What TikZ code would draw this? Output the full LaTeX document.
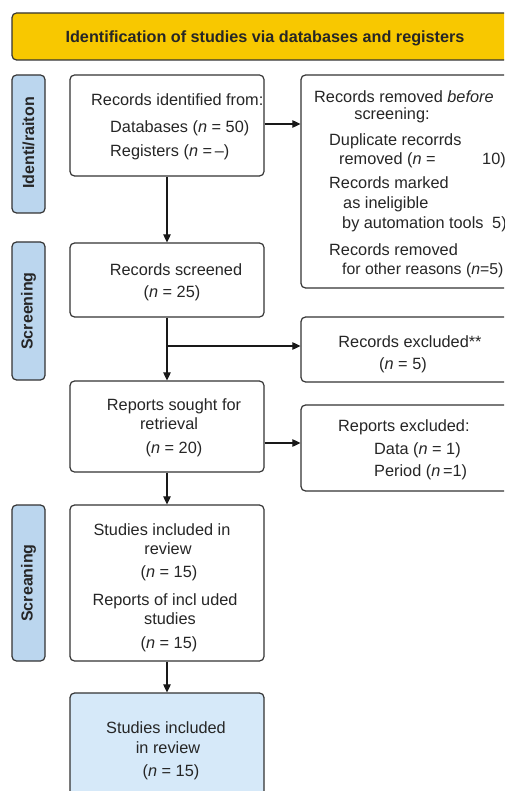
\documentclass[tikz,border=0pt]{standalone}
\usepackage{fontspec}
\setmainfont{Liberation Sans}
\usetikzlibrary{arrows.meta}
\definecolor{gold}{HTML}{F8C800}
\definecolor{sideblue}{HTML}{BBD6EE}
\definecolor{finalblue}{HTML}{D6E9F9}
\definecolor{linec}{HTML}{333333}
\tikzset{
  boxx/.style={draw=linec, line width=1.2pt, rounded corners=4.5pt, fill=white, inner sep=0pt},
  sidebox/.style={boxx, fill=sideblue},
  txt/.style={inner sep=0pt, font=\fontsize{16.3}{20}\selectfont, text=black!85},
  sidetxt/.style={inner sep=0pt, font=\fontsize{16}{20}\selectfont\bfseries, rotate=90, text=black!85},
  arr/.style={draw=black!90, line width=1.1pt, -{Triangle[length=8pt,width=7.5pt]}}
}
\begin{document}
\begin{tikzpicture}[x=1pt,y=-1pt]
\clip (0,0) rectangle (504,791);
\fill[white] (0,0) rectangle (504,791);
% banner
\node[boxx, fill=gold, minimum width=518pt, minimum height=47pt] (ban) at (271,36.5) {};
\node[txt, font=\fontsize{16.2}{20}\selectfont\bfseries, anchor=base] (bantxt) at (265,43) {Identification of studies via databases and registers};
% side labels
\node[sidebox, minimum width=33pt, minimum height=138pt] (s1) at (28.5,144) {};
\node[sidetxt] (s1t) at (28.5,143) {Identi/raiton};
\node[sidebox, minimum width=33pt, minimum height=138pt] (s2) at (28.5,311) {};
\node[sidetxt] (s2t) at (28.5,311) {Screening};
\node[sidebox, minimum width=33pt, minimum height=156pt] (s3) at (28.5,583) {};
\node[sidetxt] (s3t) at (28.5,583) {Screaning};
% boxes
\node[boxx, minimum width=194pt, minimum height=101pt] (b1) at (167,125.5) {};
\node[boxx, minimum width=229pt, minimum height=213pt] (b2) at (415.5,181.5) {};
\node[boxx, minimum width=194pt, minimum height=74pt] (scr) at (167,280) {};
\node[boxx, minimum width=229pt, minimum height=65pt] (excl) at (415.5,349.5) {};
\node[boxx, minimum width=194pt, minimum height=91pt] (sought) at (167,426.5) {};
\node[boxx, minimum width=229pt, minimum height=86pt] (repx) at (415.5,448) {};
\node[boxx, minimum width=194pt, minimum height=156pt] (stud) at (167,583) {};
\node[boxx, fill=finalblue, minimum width=194pt, minimum height=137pt] (fin) at (167,761.5) {};
% box 1 text
\node[txt, anchor=base west] (t1a) at (91,106) {Records identified from:};
\node[txt, anchor=base west] (t1b) at (110,133) {Databases (\textit{n} = 50)};
\node[txt, anchor=base west] (t1c) at (110,157) {Registers (\textit{n} =\,–)};
% box 2 text
\node[txt, anchor=base west] (t2a) at (314,103) {Records removed \textit{before}};
\node[txt, anchor=base] (t2b) at (392,120) {screening:};
\node[txt, anchor=base west] (t2c) at (329,146) {Duplicate recorrds};
\node[txt, anchor=base west] (t2d) at (339,165) {removed (\textit{n} =};
\node[txt, anchor=base west] (t2e) at (482,165) {10)};
\node[txt, anchor=base west] (t2f) at (329,189) {Records marked};
\node[txt, anchor=base west] (t2g) at (343,209) {as ineligible};
\node[txt, anchor=base west] (t2h) at (342,229) {by automation tools};
\node[txt, anchor=base west] (t2i) at (492,229) {5)};
\node[txt, anchor=base west] (t2j) at (329,255) {Records removed};
\node[txt, anchor=base west, font=\fontsize{15.8}{20}\selectfont] (t2k) at (342,274) {for other reasons (\textit{n}=5)};
% screened
\node[txt, anchor=base] (t3a) at (176,275) {Records screened};
\node[txt, anchor=base] (t3b) at (172,297) {(\textit{n} = 25)};
% excluded
\node[txt, anchor=base] (t4a) at (410,347) {Records excluded**};
\node[txt, anchor=base] (t4b) at (403,369) {(\textit{n} = 5)};
% sought
\node[txt, anchor=base] (t5a) at (174,410) {Reports sought for};
\node[txt, anchor=base] (t5b) at (169,429) {retrieval};
\node[txt, anchor=base] (t5c) at (174,453) {(\textit{n} = 20)};
% reports excluded
\node[txt, anchor=base west] (t6a) at (338,431) {Reports excluded:};
\node[txt, anchor=base west] (t6b) at (374,454) {Data (\textit{n} = 1)};
\node[txt, anchor=base west] (t6c) at (374,476) {Period (\textit{n}\,=1)};
% studies
\node[txt, anchor=base] (t7a) at (162,535) {Studies included in};
\node[txt, anchor=base] (t7b) at (168,554) {review};
\node[txt, anchor=base] (t7c) at (169,577) {(\textit{n} = 15)};
\node[txt, anchor=base] (t7d) at (165,605) {Reports of incl uded};
\node[txt, anchor=base] (t7e) at (170,624) {studies};
\node[txt, anchor=base] (t7f) at (169,648) {(\textit{n} = 15)};
% final
\node[txt, anchor=base] (t8a) at (166,733) {Studies included};
\node[txt, anchor=base] (t8b) at (168,753) {in review};
\node[txt, anchor=base] (t8c) at (171,776) {(\textit{n} = 15)};
% connectors
\coordinate (y1) at (0,124);
\coordinate (br) at (167,346);
\coordinate (y4) at (0,443);
\draw[arr] (b1.east |- y1) -- (b2.west |- y1);
\draw[arr] (b1.south) -- (scr.north);
\draw[arr] (scr.south) -- (sought.north);
\draw[arr] (br) -- (excl.west |- br);
\draw[arr] (sought.east |- y4) -- (repx.west |- y4);
\draw[arr] (sought.south) -- (stud.north);
\draw[arr] (stud.south) -- (fin.north);
\end{tikzpicture}
\end{document}
